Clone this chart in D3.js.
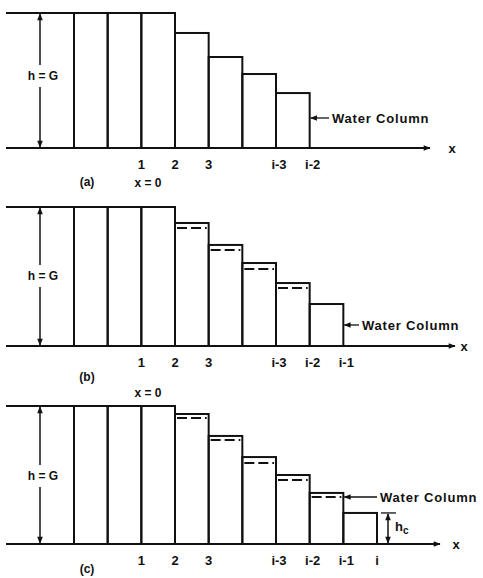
<!DOCTYPE html>
<html>
<head>
<meta charset="utf-8">
<script src="https://cdn.jsdelivr.net/npm/d3@7"></script>
<style>
  body { margin: 0; background: #fff; }
  text { font-family: "Liberation Sans", "DejaVu Sans", sans-serif; font-weight: bold; fill: #111; }
</style>
</head>
<body>
<script>
/* ---------------------------- */
/* DATA                         */
/* ---------------------------- */

// column heights as fraction of G, for columns starting at cell 3
const heightsA = [0.852, 0.674, 0.548, 0.407];
const heightsB = [0.885, 0.727, 0.597, 0.453, 0.302];
const prevB    = [0.849, 0.691, 0.554, 0.417];
const heightsC = [0.942, 0.783, 0.630, 0.500, 0.370, 0.225];
const prevC    = [0.913, 0.754, 0.587, 0.464, 0.341];

// tick labels and the cell boundary they sit on
const tickLabels = ["1", "2", "3", "i-3", "i-2", "i-1", "i"];
const tickCells  = [2, 3, 4, 6, 7, 8, 9];
const fullCells  = [0, 1, 2];      // full height columns
const firstStep  = 3;              // first reduced column

const w = 483, h = 578;

let svg = d3.select("body").append("svg")
    .attr("width", w).attr("height", h);

let defs = svg.append("defs");
defs.append("marker")
    .attr("id", "arr")
    .attr("viewBox", "0 0 10 10")
    .attr("refX", 9).attr("refY", 5)
    .attr("markerWidth", 9).attr("markerHeight", 7)
    .attr("markerUnits", "userSpaceOnUse")
    .attr("orient", "auto-start-reverse")
  .append("path")
    .attr("d", "M0,1 L10,5 L0,9 Z")
    .attr("fill", "#111");

// cell boundary -> pixel
let x = d3.scaleLinear().domain([0, 9]).range([74, 377]);

// panel layouts
const panels = [
    {top: 13, base: 148, axisEnd: 430, xLab: 452, solid: heightsA, dashed: [], nTicks: 5,
     water: {y: 118, x1: 332, cell: 7}, hgY: 76, cap: "(a)", capY: 182, x0Y: 183},
    {top: 207, base: 346, axisEnd: 455, xLab: 464, solid: heightsB, dashed: prevB, nTicks: 6,
     water: {y: 325, x1: 362, cell: 8}, hgY: 276, cap: "(b)", capY: 377, x0Y: 393},
    {top: 406, base: 544, axisEnd: 440, xLab: 456, solid: heightsC, dashed: prevC, nTicks: 7,
     water: {y: 497, x1: 380, cell: 8}, hgY: 476, cap: "(c)", capY: 569, x0Y: null, hc: true}
];

panels.forEach(drawPanel);

function drawPanel(p) {
    let g = svg.append("g");
    let y = d3.scaleLinear().domain([0, 1]).range([p.base, p.top]);
    let line = (x1, y1, x2, y2) => g.append("line")
        .attr("x1", x1).attr("y1", y1).attr("x2", x2).attr("y2", y2)
        .attr("stroke", "#111").attr("stroke-width", 2);

    // axis
    line(6, p.base, p.axisEnd, p.base).attr("marker-end", "url(#arr)").attr("stroke-width", 1.8);
    g.append("text").attr("x", p.xLab).attr("y", p.base).attr("dy", "0.35em")
        .attr("text-anchor", "middle").style("font-size", "13px").text("x");

    // reservoir top
    line(6, y(1), x(0), y(1));

    // full columns
    g.selectAll("rect.full").data(fullCells).enter().append("rect")
        .attr("class", "full")
        .attr("x", d => x(d)).attr("width", d => x(d + 1) - x(d))
        .attr("y", y(1)).attr("height", y(0) - y(1))
        .attr("fill", "none").attr("stroke", "#111").attr("stroke-width", 2);

    // stepped columns
    g.selectAll("rect.step").data(p.solid).enter().append("rect")
        .attr("class", "step")
        .attr("x", (d, i) => x(firstStep + i)).attr("width", (d, i) => x(firstStep + i + 1) - x(firstStep + i))
        .attr("y", d => y(d)).attr("height", d => y(0) - y(d))
        .attr("fill", "none").attr("stroke", "#111").attr("stroke-width", 2);
    // riser from full height to first step
    line(x(firstStep), y(1), x(firstStep), p.base);

    // previous water level (dashed)
    g.selectAll("line.prev").data(p.dashed).enter().append("line")
        .attr("class", "prev")
        .attr("x1", (d, i) => x(firstStep + i) + 2).attr("x2", (d, i) => x(firstStep + i + 1) - 2)
        .attr("y1", d => y(d)).attr("y2", d => y(d))
        .attr("stroke", "#111").attr("stroke-width", 2).attr("stroke-dasharray", "10,4");

    // tick labels
    g.selectAll("text.tick").data(tickLabels.slice(0, p.nTicks)).enter().append("text")
        .attr("class", "tick")
        .attr("x", (d, i) => x(tickCells[i]) + (d.length > 1 ? 3 : 0))
        .attr("y", p.base + 16).attr("dy", "0.35em")
        .attr("text-anchor", "middle").style("font-size", "13px")
        .text(d => d);

    // h = G arrow
    line(40, p.top + 1, 40, p.base - 1).attr("stroke-width", 1.5)
        .attr("marker-start", "url(#arr)").attr("marker-end", "url(#arr)");
    g.append("rect").attr("x", 26).attr("y", p.hgY - 11).attr("width", 32).attr("height", 22).attr("fill", "#fff");
    g.append("text").attr("x", 43).attr("y", p.hgY).attr("dy", "0.35em")
        .attr("text-anchor", "middle").style("font-size", "12px").text("h = G");

    // water column pointer
    line(p.water.x1 - 3, p.water.y, x(p.water.cell) + 1, p.water.y).attr("stroke-width", 1.3)
        .attr("marker-end", "url(#arr)");
    g.append("text").attr("x", p.water.x1).attr("y", p.water.y).attr("dy", "0.35em")
        .style("font-size", "13px").style("letter-spacing", "0.8px").text("Water Column");

    // captions
    g.append("text").attr("x", 87).attr("y", p.capY).attr("dy", "0.35em")
        .attr("text-anchor", "middle").style("font-size", "12px").text(p.cap);
    if (p.x0Y !== null) {
        g.append("text").attr("x", 148).attr("y", p.x0Y).attr("dy", "0.35em")
            .attr("text-anchor", "middle").style("font-size", "12px").text("x = 0");
    }

    // critical depth marker
    if (p.hc) {
        let hy = y(p.solid[p.solid.length - 1]);
        line(381, hy, 396, hy).attr("stroke-width", 1.3);
        line(388, hy + 1, 388, p.base - 1).attr("stroke-width", 1.5)
            .attr("marker-start", "url(#arr)").attr("marker-end", "url(#arr)");
        let t = g.append("text").attr("x", 395).attr("y", hy + 18).style("font-size", "13px");
        t.append("tspan").text("h");
        t.append("tspan").attr("dy", 3).style("font-size", "10px").text("c");
    }
}
</script>
</body>
</html>
